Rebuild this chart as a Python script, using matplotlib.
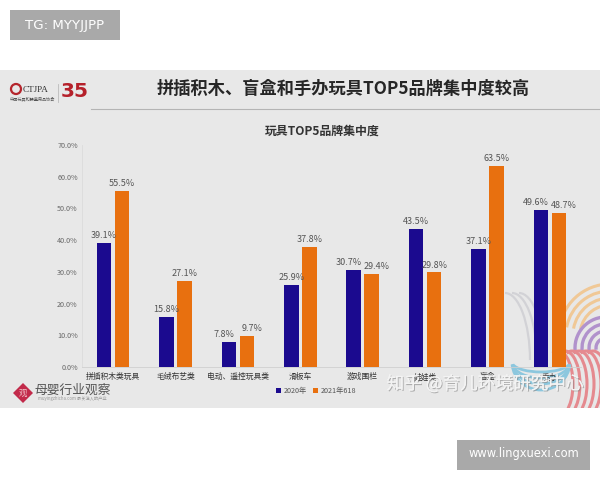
import numpy as np
import matplotlib
matplotlib.use("Agg")
import matplotlib.pyplot as plt
from matplotlib.patches import Rectangle, Polygon, Arc, Circle
import matplotlib.patheffects as pe

plt.rcParams["font.family"] = ["Noto Sans CJK JP", "DejaVu Sans"]

categories = ["拼插积木类玩具", "毛绒布艺类", "电动、遥控玩具类", "滑板车", "游戏围栏", "娃娃类", "盲盒", "手办"]
series_2020 = [39.1, 15.8, 7.8, 25.9, 30.7, 43.5, 37.1, 49.6]
series_2021 = [55.5, 27.1, 9.7, 37.8, 29.4, 29.8, 63.5, 48.7]
y_ticks = [0, 10, 20, 30, 40, 50, 60, 70]
legend_labels = ["2020年", "2021年618"]
BLUE = "#1b0a8f"
ORANGE = "#e8700f"
PANEL = "#e8e8e8"

W, H = 600, 480
fig = plt.figure(figsize=(6, 4.8), dpi=100, facecolor="white")

bg = fig.add_axes([0, 0, 1, 1], zorder=0)
bg.set_xlim(0, W); bg.set_ylim(H, 0); bg.axis("off")
bg.add_patch(Rectangle((0, 70), 600, 338, fc=PANEL, ec="none"))
bg.plot([91, 600], [109, 109], color="#b4b4b4", lw=0.8)

panel_clip = Rectangle((0, 70), 600, 338, transform=bg.transData)
def deco(p):
    bg.add_patch(p)
    p.set_clip_path(panel_clip)

# decorative stripes, lower right
for r in (30, 37, 44, 51):
    deco(Arc((610, 335), 2*r, 2*r, theta1=190, theta2=275, color="#f0c896", lw=2.2))
for r in (10, 17, 24, 31):
    deco(Arc((606, 348), 2*r, 2*r, theta1=170, theta2=275, color="#b192cc", lw=2.4))
for x0 in (558, 565, 572, 579, 586, 593):
    deco(Arc((x0, 384), 30, 66, theta1=-100, theta2=100, color="#e58a8f", lw=2.2))
for ry in (10, 16, 22, 28):
    deco(Arc((541, 362), 58, 2*ry, theta1=5, theta2=175, color="#8cc7de", lw=2.0))
for x0 in (505, 512, 519):
    deco(Arc((x0, 360), 50, 134, theta1=270, theta2=360, color="#d2d2d6", lw=1.6))

ax = fig.add_axes([82/W, (H-367)/H, 499/W, 222/H], zorder=2)
ax.patch.set_alpha(0)
x = np.arange(len(categories))
bw = 0.232
offset = 0.145
ax.bar(x - offset, series_2020, bw, color=BLUE, label=legend_labels[0])
ax.bar(x + offset, series_2021, bw, color=ORANGE, label=legend_labels[1])
for xi, a, b in zip(x, series_2020, series_2021):
    nudge = 0.08 if abs(a - b) < 3 else 0
    ax.text(xi - offset - nudge, a + 0.9, f"{a}%", ha="center", va="bottom", fontsize=6.5, color="#555555")
    ax.text(xi + offset + nudge, b + 0.9, f"{b}%", ha="center", va="bottom", fontsize=6.5, color="#555555")
ax.set_xlim(-0.5, len(categories) - 0.5)
ax.set_ylim(0, 70)
ax.set_yticks(y_ticks, [f"{t:.1f}%" for t in y_ticks])
ax.set_xticks(x, categories)
ax.tick_params(axis="y", length=0, labelsize=5.2, labelcolor="#666666", pad=3)
ax.tick_params(axis="x", length=0, labelsize=5.6, labelcolor="#333333", pad=4.5)
for s in ("top", "right"):
    ax.spines[s].set_visible(False)
ax.spines["left"].set_color("#dcdcdc")
ax.spines["bottom"].set_color("#cfcfcf")
ax.spines["left"].set_linewidth(0.6)
ax.spines["bottom"].set_linewidth(0.6)
leg = ax.legend(loc="upper center", bbox_to_anchor=(0.47, -0.072), ncol=2, frameon=False,
                fontsize=5.2, handlelength=0.7, handleheight=0.7, columnspacing=0.8,
                handletextpad=0.4, borderpad=0)
for t in leg.get_texts():
    t.set_color("#555555")

fg = fig.add_axes([0, 0, 1, 1], zorder=3)
fg.set_xlim(0, W); fg.set_ylim(H, 0); fg.axis("off"); fg.patch.set_alpha(0)

fg.text(343, 89, "拼插积木、盲盒和手办玩具TOP5品牌集中度较高", ha="center", va="center",
        fontsize=12.4, fontweight="bold", color="#262626")
fg.text(322, 131, "玩具TOP5品牌集中度", ha="center", va="center", fontsize=8.6,
        fontweight="bold", color="#333333")

# top-left tag, bottom-right tag
fg.add_patch(Rectangle((10, 10), 110, 30, fc="#a9a9a9", ec="none"))
fg.text(65, 25, "TG: MYYJJPP", ha="center", va="center", fontsize=9.6, color="white", family="DejaVu Sans")
fg.add_patch(Rectangle((457, 440), 133, 30, fc="#a9a9a9", ec="none"))
fg.text(523.5, 454, "www.lingxuexi.com", ha="center", va="center", fontsize=8.3, color="white", family="DejaVu Sans")

# CTJPA logo
fg.add_patch(Circle((16, 89), 5, fc="none", ec="#b5252c", lw=1.6))
fg.text(23, 89.5, "CTJPA", ha="left", va="center", fontsize=6.6, color="#333333", family="Liberation Serif")
fg.text(32.5, 99.5, "中国玩具和婴童用品协会", ha="center", va="center", fontsize=3.0, color="#555555")
fg.plot([57.5, 57.5], [84, 102], color="#bbbbbb", lw=0.6)
fg.text(75, 91.5, "35", ha="center", va="center", fontsize=14.5, fontweight="bold", color="#b5202a", family="DejaVu Sans")

# bottom-left logo
fg.add_patch(Polygon([[23, 383], [33, 393], [23, 403], [13, 393]], fc="#c22a4a", ec="none"))
fg.text(23, 393, "观", ha="center", va="center", fontsize=6, color="#f3c9cf")
fg.text(72.5, 390, "母婴行业观察", ha="center", va="center", fontsize=9.2, color="#555555")
fg.text(72, 398.5, "muyingzhicha.com 最关注人的产业", ha="center", va="center", fontsize=3.1, color="#999999")

# watermark
fg.text(485, 384, "知乎 @育儿环境研究中心", ha="center", va="center", fontsize=12.7, color="#f4f4f4",
        alpha=0.95, path_effects=[pe.withSimplePatchShadow(offset=(0.8, -0.8), shadow_rgbFace="#888888", alpha=0.6), pe.Normal()])

fig.savefig("out.png", dpi=100, facecolor="white")
